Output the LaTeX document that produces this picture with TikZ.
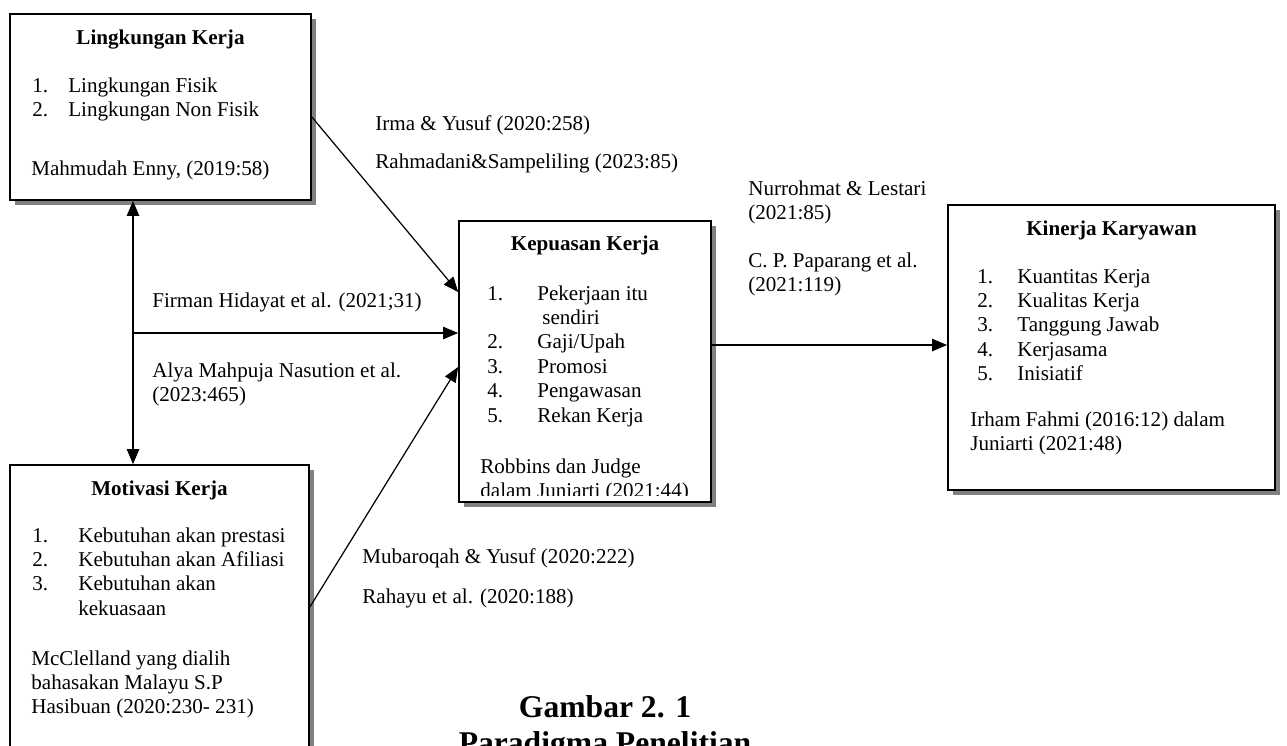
\documentclass[tikz,border=0pt]{standalone}
\usepackage{fontspec}
\setmainfont{Liberation Serif}
\usetikzlibrary{arrows.meta, shadows}

\newcommand{\daftar}[2]{\begin{tabular}[t]{@{}p{#1}@{}l@{}}#2\end{tabular}}
\newcommand{\baris}[1]{\begin{tabular}[t]{@{}l@{}}#1\end{tabular}}

\begin{document}
\begin{tikzpicture}[x=0.02cm, y=-0.02cm, >={Triangle[length=8.5pt,width=7pt]},
  font=\fontsize{12}{13.9}\selectfont,
  factor/.style={draw, line width=1pt, fill=white, inner sep=0pt,
    drop shadow={shadow xshift=2.8pt, shadow yshift=-2.8pt, fill=black!50, opacity=1}},
  ttl/.style={anchor=base, inner sep=0pt, font=\fontsize{12}{13.9}\selectfont\bfseries},
  txt/.style={anchor=base west, inner sep=0pt},
  link/.style={->, line width=0.7pt}]
  \path[use as bounding box, clip] (0,0) rectangle (1287,745);

  % variabel
  \node[factor, minimum width=6.02cm, minimum height=3.72cm] (ling) at (160.5,107) {};
  \node[ttl] (lingT) at (160.5,44) {Lingkungan Kerja};
  \node[txt] (lingL) at (32,92) {\daftar{0.72cm}{1. & Lingkungan Fisik\\2. & Lingkungan Non Fisik}};
  \node[txt] (lingS) at (31,175) {Mahmudah Enny, (2019:58)};

  \node[factor, minimum width=5.98cm, minimum height=6.5cm] (moti) at (159.5,627.5) {};
  \node[ttl] (motiT) at (159.5,495) {Motivasi Kerja};
  \node[txt] (motiL) at (32,542) {\daftar{0.92cm}{1. & Kebutuhan akan prestasi\\2. & Kebutuhan akan Afiliasi\\3. & Kebutuhan akan\\ & kekuasaan}};
  \node[txt] (motiS) at (31,665) {\baris{McClelland yang dialih\\bahasakan Malayu S.P\\Hasibuan (2020:230- 231)}};

  \node[factor, minimum width=5.04cm, minimum height=5.62cm] (puas) at (585,361.5) {};
  \begin{scope}
    \clip ([shift={(1pt,-1pt)}]puas.north west) rectangle ([shift={(-1pt,4pt)}]puas.south east);
    \node[ttl] (puasT) at (585,250) {Kepuasan Kerja};
    \node[txt] (puasL) at (487,300) {\daftar{1.0cm}{1. & Pekerjaan itu\\ & \hspace{0.1cm}sendiri\\2. & Gaji/Upah\\3. & Promosi\\4. & Pengawasan\\5. & Rekan Kerja}};
    \node[txt] (puasS) at (480,473) {\baris{Robbins dan Judge\\dalam Juniarti (2021:44)}};
  \end{scope}

  \node[factor, minimum width=6.54cm, minimum height=5.7cm] (kin) at (1111.5,347.5) {};
  \node[ttl] (kinT) at (1111.5,235) {Kinerja Karyawan};
  \node[txt] (kinL) at (977,283) {\daftar{0.8cm}{1. & Kuantitas Kerja\\2. & Kualitas Kerja\\3. & Tanggung Jawab\\4. & Kerjasama\\5. & Inisiatif}};
  \node[txt] (kinS) at (970,426) {\baris{Irham Fahmi (2016:12) dalam\\Juniarti (2021:48)}};

  % hubungan
  \coordinate (split) at (133,333);
  \draw[link] (ling.east |- 0,117) -- (puas.west |- 0,292);
  \draw[link] (split) -- (puas.west |- split);
  \draw[link, <->] (ling.south -| split) -- (moti.north -| split);
  \draw[link] (moti.east |- 0,607) -- (puas.west |- 0,367);
  \draw[link] (puas.east |- 0,345) -- (kin.west |- 0,345);

  \node[txt] (irma) at (375,130) {Irma \& Yusuf (2020:258)};
  \node[txt] (rahma) at (375,168) {Rahmadani\&Sampeliling (2023:85)};
  \node[txt] (firman) at (152,307) {Firman Hidayat et al. (2021;31)};
  \node[txt] (alya) at (152,377) {\baris{Alya Mahpuja Nasution et al.\\(2023:465)}};
  \node[txt] (mubar) at (362,563) {Mubaroqah \& Yusuf (2020:222)};
  \node[txt] (rahayu) at (362,603) {Rahayu et al. (2020:188)};
  \node[txt] (nurr) at (748,195) {\baris{Nurrohmat \& Lestari\\(2021:85)}};
  \node[txt] (papar) at (748,267) {\baris{C. P. Paparang et al.\\(2021:119)}};

  \node[anchor=base, inner sep=0pt, font=\fontsize{18}{20.5}\selectfont\bfseries] (cap) at (605,717)
    {\begin{tabular}[t]{@{}c@{}}Gambar 2. 1\\Paradigma Penelitian\end{tabular}};
\end{tikzpicture}
\end{document}
